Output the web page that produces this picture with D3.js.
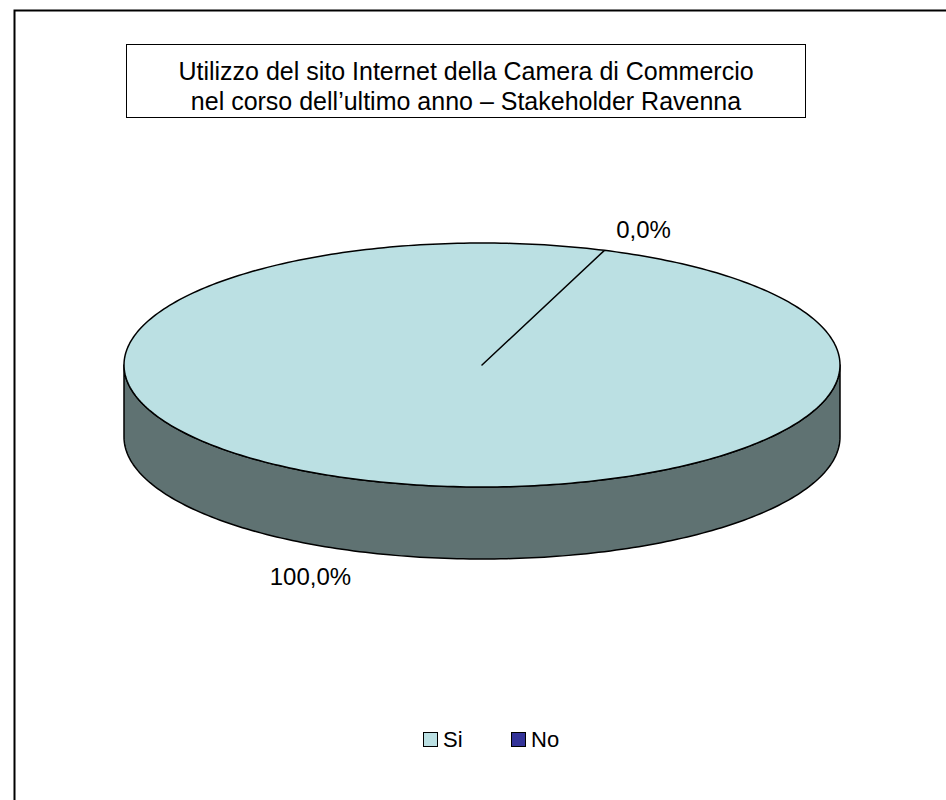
<!DOCTYPE html>
<html>
<head>
<meta charset="utf-8">
<script src="https://cdn.jsdelivr.net/npm/d3@7"></script>
<style>
  html, body { margin: 0; padding: 0; background: #fff; }
  svg { display: block; font-family: "Liberation Sans", Arial, sans-serif; }
</style>
</head>
<body>
<svg id="chart" width="946" height="800"></svg>
<script>
// Survey answers and their shares (%)
const categories = ["Si", "No"];
const values = [100, 0];
const topColors = ["#BBE0E3", "#333399"];
const sideColors = ["#5F7272", "#1F1F5C"];
const titleLines = [
  "Utilizzo del sito Internet della Camera di Commercio",
  "nel corso dell\u2019ultimo anno \u2013 Stakeholder Ravenna"
];

const svg = d3.select("#chart");
const W = 946, H = 800;

// Chart frame
svg.append("rect")
  .attr("x", 14.5).attr("y", 10.5)
  .attr("width", W).attr("height", H)
  .attr("fill", "#fff").attr("stroke", "#000").attr("stroke-width", 2);

// Title box
const titleBox = { x: 126.5, y: 44.5, w: 679, h: 73 };
svg.append("rect")
  .attr("x", titleBox.x).attr("y", titleBox.y)
  .attr("width", titleBox.w).attr("height", titleBox.h)
  .attr("fill", "#fff").attr("stroke", "#000").attr("stroke-width", 1);
svg.append("text")
  .attr("x", titleBox.x + titleBox.w / 2)
  .attr("y", 80)
  .attr("text-anchor", "middle")
  .attr("font-size", 25)
  .attr("fill", "#000")
  .selectAll("tspan").data(titleLines).join("tspan")
  .attr("x", titleBox.x + titleBox.w / 2)
  .attr("dy", (d, i) => i === 0 ? 0 : 30)
  .text(d => d);

// 3D pie geometry (elliptical projection)
const cx = 482, cy = 365, rx = 358, ry = 122, depth = 72;
const rotation = 20 * Math.PI / 180;

const pie = d3.pie().value(d => d).sort(null)
  .startAngle(rotation).endAngle(rotation + 2 * Math.PI);
const arcs = pie(values).map((a, i) => ({ ...a, i }));

const pt = (a, dz = 0) => [cx + rx * Math.sin(a), cy - ry * Math.cos(a) + dz];
const rimPoints = (a0, a1, dz = 0) => {
  const n = Math.max(2, Math.ceil(Math.abs(a1 - a0) / (Math.PI / 180)));
  return d3.range(n + 1).map(k => pt(a0 + (a1 - a0) * k / n, dz));
};
const line = d3.line();

// Side walls: only the front half of the rim is visible
const sideG = svg.append("g");
arcs.forEach(a => {
  if (a.endAngle - a.startAngle <= 0) return;
  [0, 2 * Math.PI].forEach(off => {
    const s = Math.max(a.startAngle, Math.PI / 2 + off);
    const e = Math.min(a.endAngle, 3 * Math.PI / 2 + off);
    if (e <= s) return;
    const pts = rimPoints(s, e).concat(rimPoints(e, s, depth));
    sideG.append("path")
      .attr("d", line(pts) + "Z")
      .attr("fill", sideColors[a.i])
      .attr("stroke", "#000").attr("stroke-width", 1.5)
      .attr("stroke-linejoin", "round");
  });
});

// Top faces
const topG = svg.append("g");
arcs.forEach(a => {
  if (a.endAngle - a.startAngle <= 0) return;
  const pts = [[cx, cy]].concat(rimPoints(a.startAngle, a.endAngle));
  topG.append("path")
    .attr("d", line(pts) + "Z")
    .attr("fill", topColors[a.i])
    .attr("stroke", "#000").attr("stroke-width", 1.5)
    .attr("stroke-linejoin", "round");
});

// Percentage labels, outside the pie at each slice's mid angle
const fmt = v => d3.format(".1f")(v).replace(".", ",") + "%";
const total = d3.sum(values);
const kx = 1.36, ky = 1.2;
svg.append("g").selectAll("text").data(arcs).join("text")
  .attr("x", a => {
    const m = (a.startAngle + a.endAngle) / 2;
    return cx + rx * kx * Math.sin(m) - 5;
  })
  .attr("y", a => {
    const m = (a.startAngle + a.endAngle) / 2;
    return cy - ry * ky * Math.cos(m) + (Math.cos(m) < 0 ? depth : 0) + 2;
  })
  .attr("text-anchor", "middle")
  .attr("dominant-baseline", "central")
  .attr("font-size", 24)
  .attr("fill", "#000")
  .text(a => fmt(a.value / total * 100));

// Legend
const legend = svg.append("g");
const legendX = d3.scalePoint().domain(categories).range([423, 511]);
const items = legend.selectAll("g").data(categories).join("g")
  .attr("transform", d => `translate(${legendX(d)},0)`);
items.append("rect")
  .attr("x", 0.5).attr("y", 732.5)
  .attr("width", 14).attr("height", 14)
  .attr("fill", (d, i) => topColors[i])
  .attr("stroke", "#000").attr("stroke-width", 1);
items.append("text")
  .attr("x", 20).attr("y", 747)
  .attr("font-size", 22)
  .attr("fill", "#000")
  .text(d => d);
</script>
</body>
</html>
